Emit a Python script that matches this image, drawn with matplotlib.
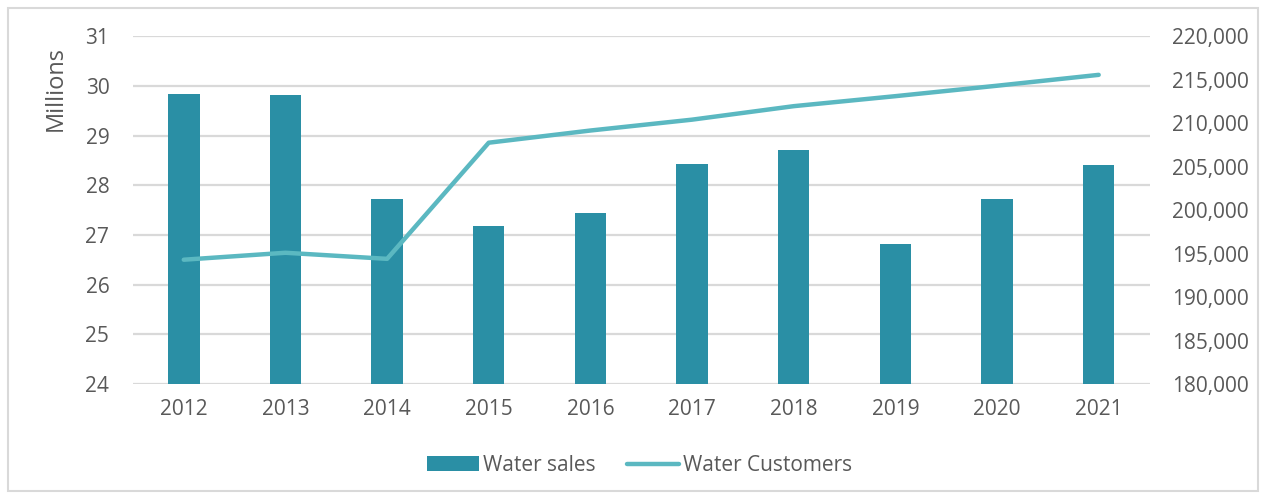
import matplotlib
matplotlib.use("Agg")
import matplotlib.pyplot as plt
from matplotlib.patches import Rectangle
from matplotlib.ticker import FuncFormatter

years = ["2012", "2013", "2014", "2015", "2016", "2017", "2018", "2019", "2020", "2021"]
water_sales = [29.83, 29.82, 27.73, 27.19, 27.44, 28.42, 28.71, 26.81, 27.73, 28.40]
water_customers = [194300, 195100, 194400, 207750, 209150, 210400, 211950, 213100, 214300, 215550]

plt.rcParams['font.family'] = ['Open Sans', 'DejaVu Sans']
text_color = "#595959"
bar_color = "#2A8FA5"
line_color = "#5BB8C1"
grid_color = "#D9D9D9"

fig = plt.figure(figsize=(12.66, 4.95), dpi=100)
fig.patches.append(Rectangle((0.006, 0.008), 0.988, 0.976, transform=fig.transFigure,
                             fill=False, edgecolor="#D9D9D9", linewidth=1.5))
ax = fig.add_axes([0.105, 0.224, 0.803, 0.703])
x = list(range(len(years)))
ax.bar(x, water_sales, width=0.31, color=bar_color, label="Water sales", zorder=2)
ax.set_ylim(24, 31)
ax.set_yticks(range(24, 32))
ax.set_xlim(-0.5, len(years) - 0.5)
ax.set_xticks(x)
ax.set_xticklabels(years)
ax.yaxis.grid(True, color=grid_color, linewidth=1.6, zorder=0)
ax.set_axisbelow(True)
for s in ax.spines.values():
    s.set_visible(False)
ax.tick_params(axis='both', length=0, labelsize=15, colors=text_color)
ax.tick_params(axis='x', pad=11)
ax.tick_params(axis='y', pad=17)
ax.set_ylabel("Millions", fontsize=17, color=text_color)
ax.yaxis.set_label_coords(-0.064, 0.85)

ax2 = ax.twinx()
ax2.plot(x, water_customers, color=line_color, linewidth=3.2, solid_capstyle='round',
         label="Water Customers", zorder=3)
ax2.set_ylim(180000, 220000)
ax2.set_yticks(range(180000, 220001, 5000))
ax2.yaxis.set_major_formatter(FuncFormatter(lambda v, p: f"{int(v):,}"))
for s in ax2.spines.values():
    s.set_visible(False)
ax2.tick_params(axis='both', length=0, labelsize=15, colors=text_color)
ax2.tick_params(axis='y', pad=16)

h1, l1 = ax.get_legend_handles_labels()
h2, l2 = ax2.get_legend_handles_labels()
leg = fig.legend(h1 + h2, l1 + l2, loc="center", bbox_to_anchor=(0.505, 0.06), ncol=2,
                 frameon=False, fontsize=15, handlelength=2.5, handletextpad=0.2,
                 columnspacing=1.5)
for t in leg.get_texts():
    t.set_color(text_color)

fig.savefig("out.png", dpi=100)
